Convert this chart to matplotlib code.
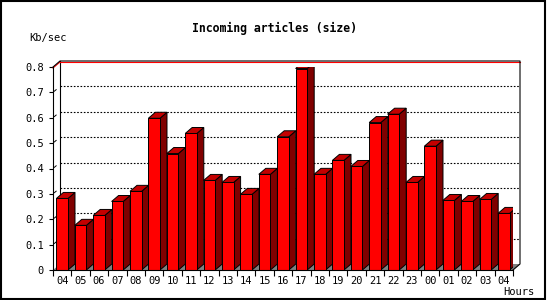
import matplotlib
matplotlib.use("Agg")
import matplotlib.pyplot as plt
from matplotlib.patches import Polygon, Rectangle

hours = ["04", "05", "06", "07", "08", "09", "10", "11", "12", "13", "14", "15", "16",
         "17", "18", "19", "20", "21", "22", "23", "00", "01", "02", "03", "04"]
kb_sec = [0.282, 0.176, 0.215, 0.270, 0.310, 0.598, 0.459, 0.538, 0.353, 0.345, 0.298, 0.377,
          0.525, 0.794, 0.377, 0.432, 0.408, 0.581, 0.614, 0.345, 0.488, 0.274, 0.270, 0.278, 0.223]
y_ticks = [0, 0.1, 0.2, 0.3, 0.4, 0.5, 0.6, 0.7, 0.8]

FRONT = "#ff0000"
TOP = "#c40000"
SIDE = "#800000"
FLOOR = "#808080"
mono = "DejaVu Sans Mono"

fig = plt.figure(figsize=(5.5, 3), dpi=100)
ax = fig.add_axes([53 / 550, 30 / 300, 460 / 550, 203 / 300])
n = len(hours)
ax.set_xlim(-0.5, n - 0.5)
ax.set_ylim(0, 0.8)

# depth of the fake 3d in data units (7px right, 6px up)
px_x = n / 460.0
px_y = 0.8 / 203.0
dx = 7 * px_x
dy = 6 * px_y
x0, x1 = -0.5, n - 0.5

# floor and back wall
ax.add_patch(Polygon([(x0, 0), (x1, 0), (x1 + dx, dy), (x0 + dx, dy)],
                     closed=True, fc=FLOOR, ec="none", zorder=1, clip_on=False))
for v in y_ticks[1:-1]:
    ax.plot([x0 + dx, x1 + dx], [v + dy, v + dy], color="black", lw=0.8,
            dashes=(1.5, 1.5), zorder=1.5, clip_on=False)
    ax.plot([x0 + 0.2 * dx, x0 + 0.45 * dx], [v + 0.2 * dy, v + 0.45 * dy],
            color="black", lw=0.7, zorder=1.5, clip_on=False)
ax.plot([x0 + dx, x1 + dx], [0.8 + dy - px_y, 0.8 + dy - px_y], color="red", lw=0.8, zorder=4, clip_on=False)
ax.plot([x0, x0 + dx], [0.8 - px_y, 0.8 + dy - px_y], color="red", lw=0.8, zorder=4, clip_on=False)
ax.plot([x0, x0 + dx, x1 + dx, x1 + dx, x1], [0.8, 0.8 + dy, 0.8 + dy, dy, 0],
        color="black", lw=0.8, zorder=4, clip_on=False)
ax.plot([x0 + dx, x0 + dx], [dy, 0.8 + dy], color="black", lw=0.8, zorder=1.5, clip_on=False)

# bars
w = 0.63
for i, v in enumerate(kb_sec):
    l, r = i - w / 2, i + w / 2
    ax.add_patch(Polygon([(r, 0), (r + dx, dy), (r + dx, v + dy), (r, v)], closed=True,
                         fc=SIDE, ec="black", lw=0.7, zorder=2))
    ax.add_patch(Polygon([(l, v), (r, v), (r + dx, v + dy), (l + dx, v + dy)], closed=True,
                         fc=TOP, ec="black", lw=0.7, zorder=2))
    ax.add_patch(Rectangle((l, 0), w, v, fc=FRONT, ec="black", lw=0.7, zorder=3))

for s in ["top", "right"]:
    ax.spines[s].set_visible(False)
for s in ["left", "bottom"]:
    ax.spines[s].set_linewidth(0.8)
    ax.spines[s].set_zorder(5)
ax.patch.set_visible(False)

ax.set_yticks(y_ticks)
ax.set_yticklabels(["0" if t == 0 else f"{t:.1f}" for t in y_ticks], fontfamily=mono, fontsize=7.5)
ax.tick_params(axis="y", length=3, width=0.8, pad=3.5)
ax.set_xticks([i - 0.5 for i in range(n + 1)])
ax.set_xticklabels([])
ax.set_xticks(range(n), minor=True)
ax.set_xticklabels(hours, minor=True, fontfamily=mono, fontsize=7.5)
ax.tick_params(axis="x", which="major", length=4, width=0.8)
ax.tick_params(axis="x", which="minor", length=0, pad=4.5)

fig.text(275 / 550, 1 - 28 / 300, "Incoming articles (size)", ha="center", va="center",
         fontfamily=mono, fontweight="bold", fontsize=8.3)
fig.text(29 / 550, 1 - 38 / 300, "Kb/sec", ha="left", va="center", fontfamily=mono, fontsize=7.5)
fig.text(534 / 550, 1 - 292 / 300, "Hours", ha="right", va="center", fontfamily=mono, fontsize=7.5)

fig.add_artist(Rectangle((0.002, 0.004), 0.988, 0.993, transform=fig.transFigure,
                         fill=False, ec="black", lw=1.5))

fig.savefig("out.png", dpi=100)
